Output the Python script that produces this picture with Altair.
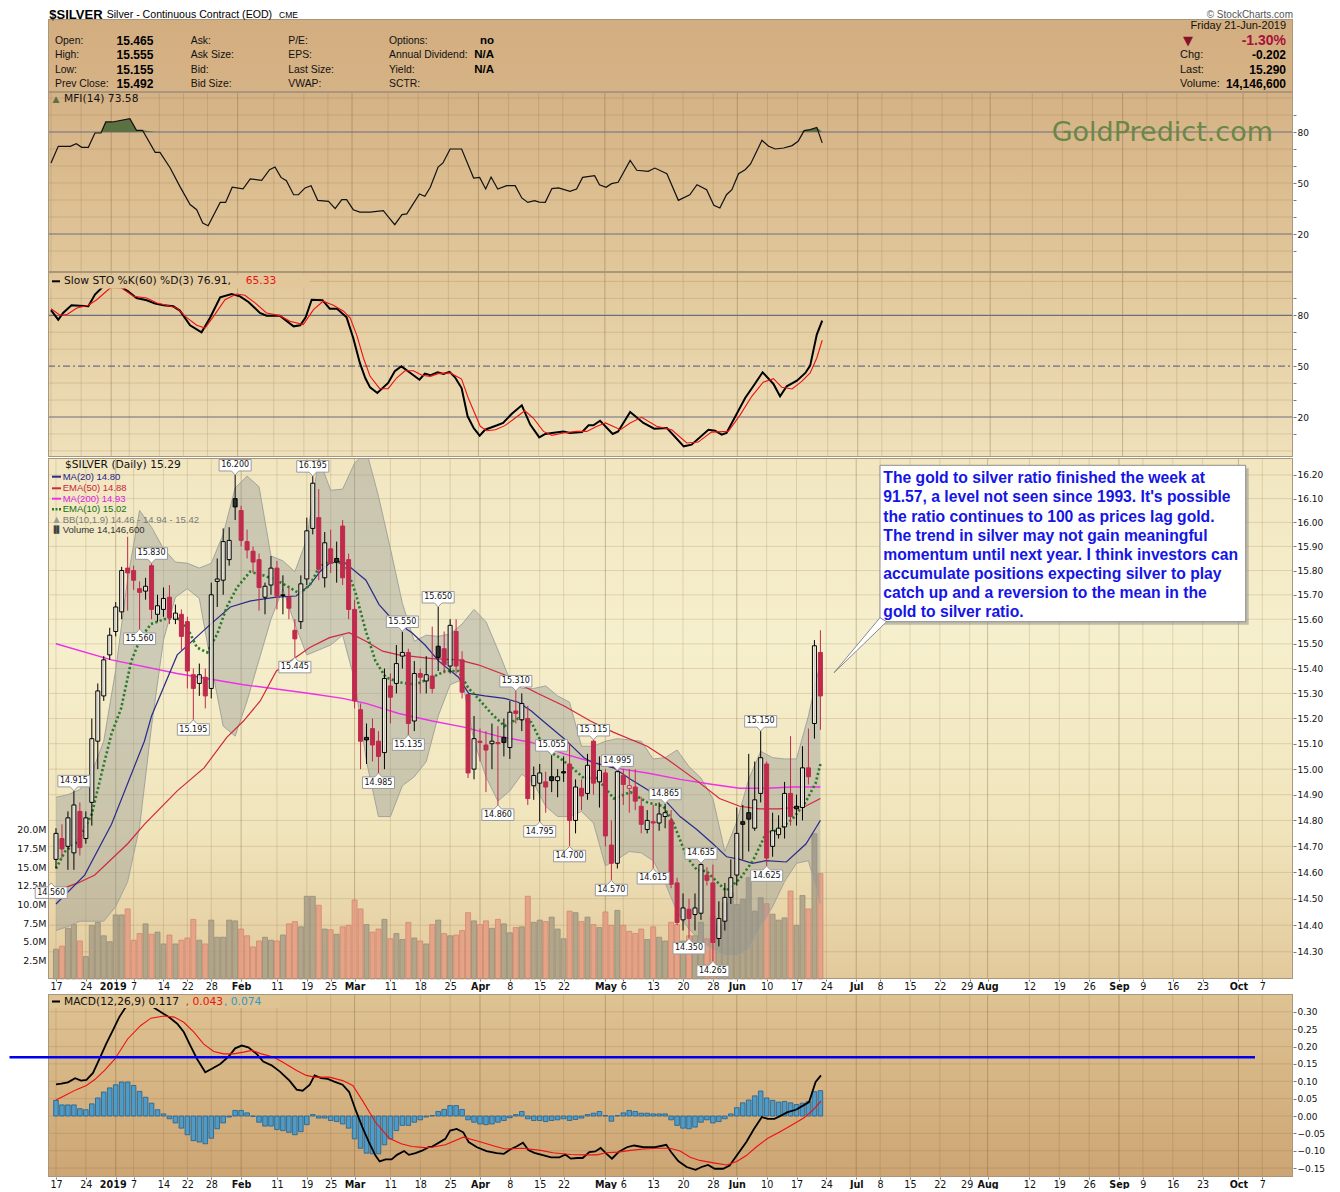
import altair as alt
import pandas as pd

W = 1245
XDOM = [-0.5, 206.3]
DJV = "DejaVu Sans"
LIB = "Liberation Sans"

# ---------------- candles (trading-day index 0 = 17-Dec-2018 ... 128 = 21-Jun-2019)
opens = [14.65, 14.73, 14.70, 14.675, 14.835, 14.73, 14.87, 15.11, 15.29, 15.455,
         15.55, 15.63, 15.81, 15.80, 15.725, 15.715, 15.82, 15.62, 15.64, 15.69,
         15.60, 15.62, 15.59, 15.375, 15.34, 15.365, 15.32, 15.755, 15.76, 15.845,
         16.10, 16.05, 15.92, 15.88, 15.845, 15.69, 15.74, 15.81, 15.70, 15.69,
         15.555, 15.59, 15.765, 15.975, 16.02, 15.77, 15.89, 15.85, 15.985, 15.845,
         15.64, 15.235, 15.125, 15.16, 15.11, 15.065, 15.33, 15.34, 15.45, 15.465,
         15.19, 15.38, 15.35, 15.37, 15.49, 15.48, 15.41, 15.55, 15.435, 15.295,
         15.00, 15.11, 15.095, 15.10, 15.105, 15.125, 15.085, 15.23, 15.195, 15.20,
         14.935, 14.945, 14.95, 14.97, 14.955, 14.99, 15.02, 14.80, 14.925, 14.905,
         15.11, 14.95, 14.985, 14.705, 14.635, 14.975, 14.925, 14.93, 14.855, 14.765,
         14.795, 14.79, 14.815, 14.80, 14.56, 14.42, 14.46, 14.44, 14.445, 14.59,
         14.56, 14.35, 14.415, 14.505, 14.59, 14.795, 14.83, 14.77, 14.905, 15.02,
         14.70, 14.745, 14.775, 14.905, 14.855, 14.85, 15.005, 15.18, 15.465]
highs = [14.77, 14.785, 14.835, 14.915, 14.87, 14.835, 15.20, 15.34, 15.45, 15.565,
         15.67, 15.815, 15.94, 15.82, 15.755, 15.77, 15.83, 15.70, 15.73, 15.74,
         15.66, 15.64, 15.61, 15.40, 15.42, 15.40, 15.75, 15.85, 15.975, 15.98,
         16.20, 16.07, 15.97, 15.90, 15.87, 15.75, 15.86, 15.84, 15.78, 15.73,
         15.60, 15.78, 16.02, 16.195, 16.14, 15.96, 15.97, 15.92, 16.01, 15.87,
         15.68, 15.26, 15.18, 15.20, 15.15, 15.40, 15.38, 15.495, 15.55, 15.48,
         15.43, 15.40, 15.45, 15.57, 15.65, 15.55, 15.60, 15.60, 15.47, 15.30,
         15.21, 15.16, 15.15, 15.18, 15.17, 15.20, 15.27, 15.31, 15.30, 15.25,
         15.01, 15.02, 14.99, 15.055, 15.00, 15.05, 15.10, 14.96, 14.96, 15.06,
         15.115, 15.05, 15.00, 14.80, 14.995, 15.00, 15.00, 15.00, 14.89, 14.84,
         14.86, 14.87, 14.865, 14.84, 14.58, 14.52, 14.50, 14.52, 14.635, 14.62,
         14.63, 14.49, 14.56, 14.65, 14.85, 14.86, 15.06, 15.03, 15.15, 15.03,
         14.83, 14.82, 14.95, 15.13, 14.90, 15.09, 15.16, 15.515, 15.555]
lows = [14.615, 14.655, 14.61, 14.61, 14.665, 14.71, 14.78, 15.00, 15.27, 15.435,
        15.53, 15.60, 15.635, 15.72, 15.56, 15.68, 15.60, 15.59, 15.61, 15.58,
        15.58, 15.475, 15.32, 15.195, 15.29, 15.24, 15.28, 15.65, 15.70, 15.82,
        16.01, 15.90, 15.85, 15.79, 15.635, 15.62, 15.70, 15.64, 15.62, 15.60,
        15.445, 15.56, 15.74, 15.95, 15.76, 15.73, 15.79, 15.75, 15.74, 15.60,
        15.24, 15.00, 15.02, 15.03, 14.985, 15.00, 15.18, 15.30, 15.40, 15.135,
        15.15, 15.30, 15.30, 15.30, 15.39, 15.38, 15.38, 15.38, 15.28, 14.965,
        14.96, 15.03, 14.91, 15.00, 14.86, 15.05, 15.04, 15.18, 15.15, 14.86,
        14.88, 14.795, 14.83, 14.91, 14.89, 14.95, 14.70, 14.75, 14.84, 14.88,
        14.90, 14.85, 14.70, 14.57, 14.615, 14.86, 14.83, 14.84, 14.75, 14.75,
        14.615, 14.76, 14.77, 14.54, 14.40, 14.38, 14.35, 14.38, 14.42, 14.55,
        14.265, 14.32, 14.38, 14.48, 14.55, 14.65, 14.68, 14.76, 14.87, 14.625,
        14.66, 14.73, 14.73, 14.78, 14.78, 14.80, 14.94, 15.12, 15.155]
closes = [14.75, 14.69, 14.81, 14.86, 14.695, 14.81, 15.12, 15.31, 15.435, 15.535,
          15.65, 15.80, 15.79, 15.76, 15.71, 15.735, 15.64, 15.655, 15.685, 15.605,
          15.625, 15.53, 15.39, 15.32, 15.375, 15.29, 15.70, 15.765, 15.92, 15.925,
          16.065, 15.925, 15.885, 15.835, 15.73, 15.735, 15.81, 15.695, 15.697, 15.645,
          15.52, 15.745, 15.965, 16.165, 15.805, 15.915, 15.83, 15.835, 15.77, 15.64,
          15.27, 15.11, 15.115, 15.095, 15.05, 15.36, 15.285, 15.42, 15.465, 15.18,
          15.38, 15.365, 15.375, 15.32, 15.445, 15.415, 15.575, 15.41, 15.305, 14.985,
          15.12, 15.105, 15.075, 15.11, 15.10, 15.105, 15.225, 15.22, 15.26, 14.885,
          14.975, 14.985, 14.93, 14.955, 14.97, 14.985, 14.80, 14.93, 14.895, 15.015,
          14.945, 14.995, 14.74, 14.635, 14.99, 14.94, 14.935, 14.875, 14.785, 14.80,
          14.79, 14.825, 14.83, 14.555, 14.41, 14.465, 14.425, 14.465, 14.63, 14.57,
          14.335, 14.425, 14.505, 14.58, 14.75, 14.785, 14.805, 14.88, 15.045, 14.655,
          14.76, 14.77, 14.905, 14.815, 14.845, 15.005, 14.97, 15.492, 15.29]
volume_m = [4.0, 4.4, 6.8, 7.3, 5.1, 3.0, 7.2, 7.6, 5.8, 5.0,
            8.6, 8.6, 9.4, 5.2, 6.1, 7.4, 6.0, 6.3, 4.7, 5.9,
            4.7, 5.2, 5.5, 8.0, 5.2, 4.7, 7.9, 5.6, 5.6, 7.9,
            7.8, 6.7, 5.8, 4.3, 5.1, 5.6, 5.2, 5.1, 5.9, 7.4,
            7.7, 7.0, 11.1, 11.1, 9.9, 6.7, 6.6, 6.0, 7.0, 7.2,
            10.6, 9.4, 7.3, 6.3, 6.7, 8.0, 5.4, 6.1, 5.3, 7.6,
            5.5, 5.1, 4.7, 7.3, 7.9, 6.1, 5.8, 5.9, 6.5, 8.9,
            7.8, 7.3, 7.8, 6.8, 8.0, 7.4, 6.2, 6.9, 7.0, 11.1,
            7.6, 7.9, 7.7, 8.3, 6.7, 5.4, 9.1, 8.9, 7.7, 8.3,
            7.3, 6.9, 9.0, 7.2, 9.2, 7.2, 6.4, 6.1, 6.7, 5.3,
            7.0, 5.6, 5.1, 7.6, 7.3, 5.1, 5.8, 5.8, 7.6, 5.4,
            8.4, 7.3, 10.2, 11.6, 10.0, 10.7, 13.6, 9.1, 10.9, 10.1,
            8.7, 7.9, 8.2, 11.8, 7.2, 11.2, 9.4, 19.5, 14.1466]

# ---------------- swing-point labels
swing_idx = [-0.8, 3, 14, 16, 23, 30, 40, 43, 54, 58, 59, 64, 74, 77, 81, 83, 86, 90,
             93, 94, 100, 102, 106, 108, 110, 118, 119]
swing_px = [14.56, 14.915, 15.56, 15.83, 15.195, 16.20, 15.445, 16.195, 14.985, 15.55,
            15.135, 15.65, 14.86, 15.31, 14.795, 15.055, 14.70, 15.115, 14.57, 14.995,
            14.615, 14.865, 14.35, 14.635, 14.265, 15.15, 14.625]
swing_kind = ["L", "H", "L", "H", "L", "H", "L", "H", "L", "H", "L", "H", "L", "H",
              "L", "H", "L", "H", "L", "H", "L", "H", "L", "H", "L", "H", "L"]

# ---------------- overlays (index, price)
ma20_pts = [(0, 14.48), (4.8, 14.59), (9.3, 14.785), (14.8, 15.11), (16, 15.21), (20.3, 15.455),
            (25.9, 15.58), (29.2, 15.65), (32.6, 15.675), (36.9, 15.69), (40.2, 15.695),
            (42.5, 15.74), (44.2, 15.795), (45.8, 15.83), (48, 15.84), (51.9, 15.76),
            (54.1, 15.66), (56.3, 15.60), (59.6, 15.545), (61.8, 15.495), (64.1, 15.43),
            (67.4, 15.365), (69.1, 15.30), (71.8, 15.29), (75.1, 15.28), (77.4, 15.265),
            (79.6, 15.23), (81.8, 15.185), (85.1, 15.12), (88.4, 15.045), (90, 15.025),
            (93.4, 15.005), (96.2, 14.96), (99, 14.92), (102.3, 14.87), (104.5, 14.815),
            (107.3, 14.765), (110, 14.71), (112.3, 14.66), (114.5, 14.65), (116.6, 14.635),
            (118.9, 14.645), (122.3, 14.64), (125.6, 14.71), (127.2, 14.77), (128, 14.80)]
ema50_pts = [(0, 14.53), (3.7, 14.56), (6.5, 14.59), (12, 14.71), (14.8, 14.785), (20.3, 14.915),
             (24.8, 15.005), (28.6, 15.125), (31.4, 15.19), (34.2, 15.27), (36.9, 15.39),
             (42.5, 15.485), (45.8, 15.525), (49.1, 15.545), (51.9, 15.51), (54.7, 15.47),
             (57.4, 15.455), (63, 15.44), (67.4, 15.435), (70.7, 15.415), (75.1, 15.375),
             (77.4, 15.34), (80.7, 15.30), (85.1, 15.25), (89.5, 15.19), (93.4, 15.145),
             (99, 15.09), (102.3, 15.04), (107.3, 14.955), (111.1, 14.885), (114.5, 14.855),
             (117.8, 14.845), (121.1, 14.845), (125.5, 14.855), (128, 14.885)]
ma200_pts = [(0, 15.50), (9.3, 15.435), (20.3, 15.38), (31.4, 15.335), (42.5, 15.30),
             (48, 15.28), (51.9, 15.26), (57.4, 15.22), (63, 15.19), (68.5, 15.165),
             (74, 15.13), (79.6, 15.105), (85.1, 15.06), (89.5, 15.03), (93.4, 15.005),
             (99, 14.985), (104.5, 14.96), (110, 14.94), (114.5, 14.925), (118.9, 14.925),
             (123.3, 14.93), (128, 14.93)]
ema10_pts = [(0, 14.615), (1.5, 14.68), (3.7, 14.72), (6, 14.825), (7.6, 14.98), (9.3, 15.14),
             (10.9, 15.24), (12.6, 15.43), (14.2, 15.525), (15.9, 15.58), (18.1, 15.60),
             (20.3, 15.605), (22, 15.565), (23.6, 15.485), (25.3, 15.465), (27, 15.54),
             (28.6, 15.65), (30.3, 15.73), (32.5, 15.795), (34.7, 15.78), (36.9, 15.76),
             (39.1, 15.73), (40.8, 15.705), (42.5, 15.74), (44.1, 15.815), (45.8, 15.84),
             (48, 15.83), (48.6, 15.815), (50.2, 15.705), (51.9, 15.55), (53.5, 15.43),
             (55.2, 15.365), (57.4, 15.345), (60.2, 15.335), (63, 15.365), (65.2, 15.39),
             (67.4, 15.39), (69.1, 15.32), (70.7, 15.28), (72.9, 15.22), (75.1, 15.17),
             (77.4, 15.20), (79.6, 15.185), (81.8, 15.08), (84, 15.05), (86.2, 15.01),
             (88.4, 14.965), (90.6, 14.965), (93.4, 14.885), (96.2, 14.91), (99, 14.87),
             (101.7, 14.855), (103.4, 14.79), (105.6, 14.66), (107.3, 14.61), (108.9, 14.605),
             (111.1, 14.555), (112.2, 14.53), (114.5, 14.575), (116.7, 14.645), (118.9, 14.75),
             (121.1, 14.765), (123.3, 14.805), (125.5, 14.87), (127.2, 14.945), (128, 15.02)]
bb_idx = list(range(0, 129, 2))
bb_upper = [14.89, 14.90, 14.92, 14.985, 15.11, 15.395, 15.765, 16.05, 15.98, 15.89,
            15.835, 15.83, 15.81, 15.83, 15.95, 16.145, 16.195, 16.15, 15.86, 15.84,
            15.795, 15.93, 16.27, 16.135, 16.14, 16.25, 16.30, 16.11, 15.89, 15.665,
            15.51, 15.535, 15.53, 15.54, 15.58, 15.64, 15.59, 15.475, 15.355, 15.32,
            15.32, 15.33, 15.29, 15.265, 15.09, 15.09, 15.11, 15.12, 15.115, 15.11,
            15.04, 15.045, 15.075, 15.01, 14.965, 14.885, 14.68, 14.795, 14.96, 15.07,
            15.045, 15.04, 15.04, 15.21, 15.425]
bb_lower = [14.38, 14.395, 14.415, 14.415, 14.415, 14.47, 14.565, 14.775, 15.17, 15.515,
            15.69, 15.725, 15.685, 15.415, 15.17, 15.13, 15.27, 15.435, 15.60, 15.725,
            15.58, 15.455, 15.475, 15.495, 15.535, 15.355, 15.03, 14.815, 14.815, 14.935,
            14.97, 15.03, 15.21, 15.335, 15.355, 15.11, 14.97, 14.875, 14.915, 14.98,
            14.945, 14.855, 14.815, 14.815, 14.835, 14.79, 14.625, 14.65, 14.68, 14.675,
            14.645, 14.56, 14.45, 14.385, 14.34, 14.31, 14.285, 14.285, 14.31, 14.395,
            14.47, 14.565, 14.635, 14.645, 14.48]

# ---------------- MFI(14)
mfi_pts = [(0, 61.8), (1.2, 71.6), (3.2, 71.6), (4.2, 73.1), (5.1, 71.0), (6.2, 71.0), (7.3, 79.4),
           (8.3, 79.4), (9.1, 85.9), (10.2, 85.9), (13.1, 87.8), (14.2, 81.0), (15.2, 81.0),
           (17.3, 68.0), (18.1, 68.0), (19.8, 58.8), (21.4, 48.0), (23.1, 37.3), (24.2, 34.3),
           (25.2, 26.5), (26.1, 24.9), (28.1, 38.6), (29, 38.6), (30.1, 47.5), (31.9, 46.5),
           (33.1, 52.4), (35, 51.6), (36.3, 57.8), (37.2, 59.4), (38.2, 53.3), (39.1, 51.4),
           (40.3, 43.1), (41.1, 43.1), (42.2, 47.1), (43.2, 48.4), (44.3, 39.8), (46.1, 39.2),
           (47.2, 34.9), (48.3, 40.2), (49.1, 40.2), (50.2, 34.3), (51.3, 32.9), (53, 32.9),
           (55.2, 33.7), (56.2, 29.4), (57.1, 25.5), (58.3, 31.4), (59.1, 31.8), (61.2, 43.5),
           (62.1, 42.2), (63, 47.5), (64.3, 59.4), (65.1, 61.8), (66.3, 70.0), (68.2, 70.0),
           (70.2, 52.9), (71.2, 53.3), (72.2, 46.5), (73.1, 53.5), (74.2, 46.5), (75.7, 48.4),
           (77.1, 48.4), (78.2, 41.2), (79.2, 38.6), (80.3, 39.6), (81.1, 38.8), (82.1, 38.6),
           (83.2, 46.7), (84.3, 47.1), (86.2, 45.1), (87.3, 46.5), (88.3, 53.3), (90.3, 54.3),
           (91.1, 49.0), (92.2, 47.5), (93.1, 49.6), (94.2, 50.4), (96.2, 63.3), (97.3, 57.5),
           (99.2, 56.9), (100.3, 58.8), (102.3, 55.5), (104.2, 39.8), (106.1, 43.1),
           (107.3, 49.0), (108.9, 46.1), (110.1, 36.9), (111.1, 35.3), (112.2, 43.1),
           (113.1, 46.1), (114.2, 55.5), (115.3, 57.8), (116.2, 61.2), (118.1, 75.1),
           (119.2, 71.6), (120.3, 70.0), (121.7, 70.6), (123.1, 72.0), (124.1, 74.5),
           (125.1, 80.8), (126.1, 81.4), (127.2, 82.7), (128.1, 73.6)]

# ---------------- Slow STO %K(60) %D(3)
stok_pts = [(0, 83.0), (1.2, 77.4), (2, 81.4), (3.4, 85.9), (6.2, 85.3), (7.3, 92.2), (8.4, 96.1),
            (9.5, 99.5), (10.5, 99.0), (11.5, 97.1), (12.8, 94.2), (14.2, 90.2), (15.9, 88.9),
            (17.3, 86.9), (18.7, 85.9), (20.3, 85.3), (21.4, 82.8), (23.1, 74.1), (25, 70.0),
            (26.4, 78.4), (28.1, 90.6), (30, 92.6), (31.4, 91.2), (32.8, 87.9), (34.7, 81.4),
            (35.8, 79.8), (38, 79.8), (40.3, 73.5), (41.4, 74.1), (42.3, 78.8), (43.3, 89.2),
            (45.1, 88.9), (46.3, 83.9), (47.5, 83.9), (49.1, 78.8), (50.2, 66.6), (51.3, 51.9),
            (52.2, 43.0), (53, 37.5), (54.2, 34.2), (56, 40.1), (57.1, 47.0), (58.2, 49.9),
            (59.7, 46.0), (61.2, 42.0), (62.1, 45.6), (63, 44.6), (64.2, 46.4), (65.2, 45.4),
            (66.2, 46.6), (67.1, 43.4), (68.2, 37.1), (69.2, 20.4), (70.2, 13.5), (71.2, 9.0),
            (72.1, 12.5), (74.1, 15.1), (75.1, 16.5), (76.5, 21.8), (78.2, 26.9), (79.6, 15.5),
            (81.1, 8.0), (82.1, 10.0), (83.2, 10.6), (85.1, 11.5), (86.2, 10.6), (88.2, 11.1),
            (89.3, 15.1), (90.1, 15.1), (91.2, 17.8), (93.3, 10.0), (94.2, 11.5), (96.2, 22.9),
            (98.4, 16.5), (100.2, 13.1), (102.3, 13.5), (105.1, 2.7), (106.4, 3.7),
            (109.2, 12.5), (110.3, 11.9), (111.4, 9.6), (112.2, 10.6), (115.3, 31.2),
            (116.9, 39.5), (118.2, 46.4), (120, 39.5), (121.1, 32.2), (122.2, 38.1),
            (123.9, 41.4), (125.3, 46.0), (126.1, 50.3), (127.2, 68.6), (128.1, 76.9)]
stod_pts = [(0, 83.9), (1.5, 80.0), (2.6, 80.4), (4.3, 84.3), (6.2, 85.9), (7.6, 89.2), (9.2, 94.2),
            (10, 96.5), (11.7, 96.1), (13.7, 91.2), (15.9, 90.2), (17.6, 87.3), (19.2, 85.9),
            (20.9, 84.3), (22.5, 78.8), (24.2, 74.1), (25.6, 72.5), (27.2, 80.4), (28.9, 89.2),
            (30.8, 92.6), (32.2, 91.8), (33.9, 87.3), (35.8, 81.4), (38, 79.8), (39.7, 76.5),
            (41.9, 74.5), (43.6, 83.3), (45.2, 88.3), (46.9, 85.9), (48.6, 82.4), (49.7, 78.4),
            (50.8, 68.2), (51.9, 54.8), (53, 44.0), (54.6, 36.7), (56, 36.7), (57.4, 43.0),
            (58.8, 47.3), (60.2, 47.3), (61.6, 44.6), (63, 44.0), (64.3, 45.6), (66.3, 46.0),
            (68.2, 42.4), (69.3, 31.2), (71.3, 14.5), (72.4, 11.9), (73.8, 12.5), (75.4, 14.9),
            (77.1, 19.4), (78.7, 23.7), (80.1, 19.4), (81.8, 11.5), (83.2, 9.2), (85.1, 10.6),
            (87.3, 11.5), (89, 11.5), (90.7, 14.5), (92.1, 16.5), (94.6, 12.5), (96.2, 16.5),
            (98.1, 19.8), (100.6, 14.5), (103.1, 12.5), (105.6, 4.7), (107.5, 5.2),
            (109.7, 11.1), (112.5, 11.5), (114.5, 21.4), (116.4, 32.2), (118.3, 40.5),
            (120, 42.6), (121.4, 37.5), (123.1, 36.5), (124.7, 41.0), (126.1, 46.0),
            (127.2, 54.8), (128.1, 65.3)]

# ---------------- MACD(12,26,9)
macd_pts = [(0, 0.091), (0.9, 0.093), (2, 0.097), (3.2, 0.109), (4.2, 0.102), (5.1, 0.104),
            (6.2, 0.124), (7.3, 0.165), (8.4, 0.208), (9.5, 0.246), (10.6, 0.285), (11.5, 0.309),
            (12.3, 0.325), (13.3, 0.337), (14.2, 0.338), (15.9, 0.318), (17.8, 0.297),
            (18.9, 0.285), (20.3, 0.266), (21.4, 0.242), (22.5, 0.203), (23.6, 0.165),
            (25, 0.126), (26.1, 0.136), (27.5, 0.150), (28.9, 0.171), (30, 0.195), (31.1, 0.203),
            (32.2, 0.198), (33.6, 0.179), (34.7, 0.157), (36.1, 0.146), (37.5, 0.128),
            (39.1, 0.102), (40.3, 0.076), (41.3, 0.073), (42.5, 0.090), (43.3, 0.117),
            (44.4, 0.109), (45.5, 0.107), (46.6, 0.099), (48, 0.090), (49.1, 0.069),
            (50.2, 0.016), (51.3, -0.032), (52.4, -0.075), (53.5, -0.114), (54.2, -0.131),
            (55.2, -0.125), (56.2, -0.125), (57.1, -0.112), (58.3, -0.101), (59.1, -0.112),
            (60.2, -0.107), (61.3, -0.100), (62.4, -0.090), (63, -0.088), (65.2, -0.066),
            (66, -0.042), (67.1, -0.037), (68.2, -0.047), (69.1, -0.075), (70.5, -0.090),
            (72.1, -0.101), (73.8, -0.107), (75, -0.109), (76.2, -0.095), (77.1, -0.088),
            (78.2, -0.077), (79.1, -0.098), (80.1, -0.106), (81.2, -0.111), (82.9, -0.119),
            (84.3, -0.119), (85.3, -0.111), (86.2, -0.123), (87.3, -0.121), (88.2, -0.121),
            (89.3, -0.104), (90.3, -0.102), (91.2, -0.092), (92.2, -0.109), (93.1, -0.123),
            (94.2, -0.104), (95.6, -0.090), (96.8, -0.085), (98.4, -0.090), (100.3, -0.090),
            (102.2, -0.083), (103, -0.104), (104.2, -0.130), (105.6, -0.147), (107.1, -0.155),
            (108.1, -0.147), (109.2, -0.141), (110.3, -0.152), (111.7, -0.152),
            (112.8, -0.143), (114.2, -0.109), (115.6, -0.075), (116.9, -0.037),
            (118.2, -0.003), (119.2, -0.008), (120.3, -0.008), (121.4, 0.001), (122.5, 0.011),
            (123.9, 0.018), (124.8, 0.027), (126.1, 0.040), (127.2, 0.098), (128.1, 0.117)]
signal_pts = [(0, 0.046), (1.5, 0.059), (3.4, 0.076), (5.1, 0.088), (6.5, 0.105), (8.1, 0.131),
              (9.8, 0.163), (12, 0.222), (14.2, 0.261), (15.9, 0.282), (18.1, 0.288),
              (19.8, 0.285), (21.4, 0.270), (23.1, 0.242), (24.7, 0.208), (26.4, 0.186),
              (28.1, 0.179), (29.7, 0.179), (31.4, 0.184), (32.8, 0.189), (34.4, 0.179),
              (36.4, 0.170), (38, 0.155), (40.3, 0.131), (41.9, 0.117), (43.3, 0.112),
              (45.8, 0.112), (48, 0.102), (49.7, 0.088), (51.3, 0.045), (53.5, -0.018),
              (55.8, -0.064), (57.8, -0.080), (59.6, -0.088), (61.8, -0.091), (63, -0.090),
              (65.2, -0.083), (68.2, -0.061), (70.7, -0.073), (73.5, -0.087), (75.2, -0.095),
              (78.1, -0.093), (81.2, -0.099), (83.2, -0.106), (86.2, -0.111), (88.4, -0.112),
              (90.6, -0.112), (92.1, -0.106), (94.1, -0.104), (96.2, -0.099), (98.4, -0.095),
              (100.6, -0.093), (102.8, -0.093), (104.5, -0.101), (106.2, -0.119),
              (107.8, -0.128), (110.1, -0.135), (112.3, -0.141), (114, -0.131),
              (115.6, -0.114), (117.2, -0.090), (119.2, -0.064), (121.1, -0.047),
              (123.3, -0.025), (125.2, -0.006), (126.7, 0.016), (128.1, 0.043)]
hist_vals = [0.045, 0.032, 0.032, 0.032, 0.021, 0.018, 0.035, 0.052, 0.069, 0.081,
             0.090, 0.098, 0.098, 0.088, 0.071, 0.054, 0.037, 0.018, 0.006, -0.008,
             -0.020, -0.035, -0.054, -0.071, -0.075, -0.080, -0.064, -0.037, -0.020, -0.003,
             0.016, 0.016, 0.009, -0.001, -0.018, -0.029, -0.029, -0.039, -0.042, -0.047,
             -0.054, -0.045, -0.025, 0.004, -0.006, -0.006, -0.013, -0.016, -0.023, -0.035,
             -0.066, -0.093, -0.107, -0.109, -0.109, -0.083, -0.066, -0.042, -0.027, -0.027,
             -0.018, -0.011, -0.003, 0.001, 0.013, 0.019, 0.030, 0.030, 0.019, -0.011,
             -0.018, -0.023, -0.025, -0.023, -0.018, -0.013, -0.005, 0.004, 0.013, -0.008,
             -0.013, -0.013, -0.016, -0.013, -0.011, -0.008, -0.013, -0.010, -0.006, 0.004,
             0.008, 0.013, 0.001, -0.015, 0.001, 0.009, 0.016, 0.013, 0.008, 0.008,
             0.006, 0.006, 0.006, -0.011, -0.027, -0.035, -0.037, -0.032, -0.018, -0.011,
             -0.020, -0.016, -0.008, 0.006, 0.024, 0.038, 0.046, 0.058, 0.072, 0.052,
             0.045, 0.040, 0.042, 0.038, 0.033, 0.037, 0.042, 0.070, 0.073]
annot_level = [0.169]

# ---------------- axis ticks / labels
tick_idx = [0, 5, 10, 13, 18, 22, 26, 31, 37, 42, 46, 50, 56, 61, 66, 71, 76, 81, 85, 92, 95,
            100, 105, 110, 114, 119, 124, 129, 134, 138, 143, 148, 153, 156, 163, 168, 173,
            178, 182, 187, 192, 198, 202]
tick_lab = ["17", "24", "2019", "7", "14", "22", "28", "Feb", "11", "19", "25", "Mar", "11",
            "18", "25", "Apr", "8", "15", "22", "May", "6", "13", "20", "28", "Jun", "10", "17",
            "24", "Jul", "8", "15", "22", "29", "Aug", "12", "19", "26", "Sep", "9", "16", "23",
            "Oct", "7"]
month_idx = [10, 31, 50, 71, 92, 114, 134, 156, 178, 198]
price_ticks = [14.3, 14.4, 14.5, 14.6, 14.7, 14.8, 14.9, 15.0, 15.1, 15.2, 15.3, 15.4, 15.5,
               15.6, 15.7, 15.8, 15.9, 16.0, 16.1, 16.2]
vol_ticks = [2.5, 5, 7.5, 10, 12.5, 15, 17.5, 20]
osc_ticks = [10, 20, 30, 40, 50, 60, 70, 80, 90]
macd_ticks = [-0.15, -0.10, -0.05, 0.0, 0.05, 0.10, 0.15, 0.20, 0.25, 0.30]

ANN_LINES = ["The gold to silver ratio finished the week at",
             "91.57, a level not seen since 1993. It's possible",
             "the ratio continues to 100 as prices lag gold.",
             "The trend in silver may not gain meaningful",
             "momentum until next year. I think investors can",
             "accumulate positions expecting silver to play",
             "catch up and a reversion to the mean in the",
             "gold to silver ratio."]

# ---------------- styles
RED = "#c02a4c"
HOLLOW = "#fbf8ee"
DARK = "#2e2e2e"
GRIDC = "#6e5228"
REFC = "#6d6d80"
BORDER = "#a8977c"

H_HDR, H_MFI, H_STO, H_PRC, H_MACD = 73, 180, 185, 521, 183

xsc = alt.Scale(domain=XDOM, nice=False, zero=False)
ysc_p = alt.Scale(type="log", domain=[14.1986, 16.272], nice=False, zero=False)
ysc_v = alt.Scale(domain=[0, 69.93], nice=False, zero=False)
ysc_m = alt.Scale(domain=[-2.35, 103.53], nice=False, zero=False)
ysc_s = alt.Scale(domain=[-3.6, 105.55], nice=False, zero=False)
ysc_d = alt.Scale(domain=[-0.1758, 0.3516], nice=False, zero=False)

lab_expr = "".join("datum.value == %d ? '%s' : " % (t, s) for t, s in zip(tick_idx, tick_lab)) + "''"
bold_test = " || ".join("datum.value == %d" % t for t in month_idx)
osc_expr = "datum.value == 20 || datum.value == 50 || datum.value == 80 ? datum.label : ''"


def raxis(values, fmt=None, expr=None):
    kw = dict(orient="right", values=values, tickSize=3, tickColor="#777777", domain=False,
              grid=False, labelFont=DJV, labelFontSize=9, labelColor="#111111",
              labelPadding=1, labelFlush=False, labelOverlap=False, title=None)
    if fmt is not None:
        kw["format"] = fmt
    if expr is not None:
        kw["labelExpr"] = expr
    return alt.Axis(**kw)


# one shared axis object per scale: every layer using that scale gets the same axis
XAX = alt.Axis(values=tick_idx, labelExpr=lab_expr,
               labelFontWeight={"condition": {"test": bold_test, "value": "bold"},
                                "value": "normal"},
               labelOffset={"condition": {"test": "datum.value == 10 || datum.value == 153",
                                          "value": -3},
                            "value": 0},
               grid=False, domain=False, ticks=True, tickSize=2, tickColor="#777777",
               labelFont=DJV, labelFontSize=9.6, labelColor="#111111", labelPadding=0,
               labelOverlap=False, labelFlush=False, title=None)
PAX = raxis(price_ticks, fmt=".2f")
MAX = raxis(macd_ticks, fmt=".2f")
OAX = raxis(osc_ticks, expr=osc_expr)
VAX = alt.Axis(orient="left", values=vol_ticks, labelExpr="format(datum.value, '.1f') + 'M'",
               ticks=False, domain=False, grid=False, labelFont=DJV, labelFontSize=9.5,
               labelColor="#111111", labelPadding=2, title=None)


def one():
    return alt.Data(values=[{"k": 0}])


def T(txt, x, y, size=10.0, color="#000000", weight="normal", align="left", font=DJV,
      baseline="middle"):
    return alt.Chart(one()).mark_text(text=txt, fontSize=size, color=color, fontWeight=weight,
                                      align=align, font=font, baseline=baseline).encode(
        x=alt.value(x), y=alt.value(y))


def R(x, x2, y, y2, color, width=1.0, dash=None, opacity=1.0):
    kw = dict(color=color, strokeWidth=width, opacity=opacity)
    if dash is not None:
        kw["strokeDash"] = dash
    return alt.Chart(one()).mark_rule(**kw).encode(x=alt.value(x), x2=alt.value(x2),
                                                   y=alt.value(y), y2=alt.value(y2))


def BOX(x, x2, y, y2, fill, stroke=None, opacity=1.0):
    kw = dict(fill=fill, opacity=opacity)
    if stroke is not None:
        kw.update(stroke=stroke, strokeWidth=1)
    else:
        kw.update(strokeWidth=0)
    return alt.Chart(one()).mark_rect(**kw).encode(x=alt.value(x), x2=alt.value(x2),
                                                   y=alt.value(y), y2=alt.value(y2))


def GRAD(h, stops):
    g = alt.LinearGradient(gradient="linear",
                           stops=[alt.GradientStop(offset=o, color=c) for o, c in stops],
                           x1=0, x2=0, y1=0, y2=1)
    return alt.Chart(one()).mark_rect(fill=g, strokeWidth=0).encode(
        x=alt.value(0), x2=alt.value(W), y=alt.value(0), y2=alt.value(h))


def FRAME(h):
    return [R(0, W, 0.5, 0.5, BORDER), R(0, W, h - 0.5, h - 0.5, BORDER),
            R(0.5, 0.5, 0.5, h - 0.5, BORDER), R(W - 0.5, W - 0.5, 0.5, h - 0.5, BORDER)]


def GUARD(y):
    return R(-39.5, -39.5, y, y, "#ffffff", opacity=0.0)


def VGRID(h, axis=None):
    week = [t for t in tick_idx if t not in month_idx]
    enc = dict(x=alt.X("t:Q", scale=xsc, axis=axis), y=alt.value(0.5), y2=alt.value(h - 0.5))
    a = alt.Chart(pd.DataFrame({"t": week})).mark_rule(color=GRIDC, opacity=0.17,
                                                       strokeWidth=1).encode(**enc)
    b = alt.Chart(pd.DataFrame({"t": month_idx})).mark_rule(color=GRIDC, opacity=0.33,
                                                            strokeWidth=1).encode(**enc)
    return [a, b]


def HLINES(vals, scale, axis=None, color=GRIDC, opacity=0.17, width=1.0, dash=None):
    kw = dict(color=color, opacity=opacity, strokeWidth=width)
    if dash is not None:
        kw["strokeDash"] = dash
    return alt.Chart(pd.DataFrame({"v": vals})).mark_rule(**kw).encode(
        y=alt.Y("v:Q", scale=scale, axis=axis), x=alt.value(0), x2=alt.value(W))


def XP(field="i:Q", axis=None):
    return alt.X(field, scale=xsc, axis=axis)


def pts_df(pairs, col):
    return pd.DataFrame(pairs, columns=["i", col])


# ---------------- candle table
rows = []
for k in range(len(closes)):
    up = k == 0 or closes[k] >= closes[k - 1]
    filled = closes[k] < opens[k]
    col = "#000000" if up else RED
    if filled:
        bf, fo = (DARK if up else RED), 1.0
    else:
        bf, fo = HOLLOW, 0.8
    rows.append(dict(i=k, o=opens[k], h=highs[k], l=lows[k], c=closes[k], wc=col, bf=bf,
                     bs=col, fo=fo, vol=volume_m[k], z0=0.0,
                     vf="#a99f87" if up else "#e59c84", vs="#8b8270" if up else "#cd7c66"))
cdf = pd.DataFrame(rows)

# ================= HEADER
HDR = [
    GRAD(H_HDR, [(0, "#d2ad7f"), (1, "#d6b386")]),
    *FRAME(H_HDR),
    GUARD(-10.5),
    T("$SILVER", 1.3, -4.5, size=13, weight="bold", font=LIB),
    T("Silver - Continuous Contract (EOD)", 58.7, -4.5, size=10.6, font=LIB),
    T("CME", 231, -4.5, size=8.5, font=LIB),
    T("\u00a9 StockCharts.com", W, -4.5, size=10, color="#555555", align="right", font=LIB),
]
rows_y = [21.7, 36, 51, 65.3]
col_texts = [
    (7, ["Open:", "High:", "Low:", "Prev Close:"]),
    (142.7, ["Ask:", "Ask Size:", "Bid:", "Bid Size:"]),
    (240.3, ["P/E:", "EPS:", "Last Size:", "VWAP:"]),
    (341, ["Options:", "Annual Dividend:", "Yield:", "SCTR:"]),
]
for cx, labels in col_texts:
    for yy, s in zip(rows_y, labels):
        HDR.append(T(s, cx, yy, size=10.4, color="#111111", font=LIB))
for yy, s in zip(rows_y, ["15.465", "15.555", "15.155", "15.492"]):
    HDR.append(T(s, 105.3, yy, size=12, weight="bold", align="right", font=LIB))
for yy, s in zip(rows_y[:3], ["no", "N/A", "N/A"]):
    HDR.append(T(s, 446, yy, size=11.5, weight="bold", align="right", font=LIB))
HDR += [
    T("Friday  21-Jun-2019", 1238, 7, size=11, color="#111111", align="right", font=LIB),
    T("\u25bc", 1140, 21.7, size=13, color="#8a0f2a", align="center"),
    T("-1.30%", 1238, 21.7, size=14, weight="bold", color="#a8103c", align="right", font=LIB),
    T("Chg:", 1132, 36, size=11, color="#111111", font=LIB),
    T("-0.202", 1238, 36, size=12, weight="bold", align="right", font=LIB),
    T("Last:", 1132, 51, size=11, color="#111111", font=LIB),
    T("15.290", 1238, 51, size=12, weight="bold", align="right", font=LIB),
    T("Volume:", 1132, 65.3, size=11, color="#111111", font=LIB),
    T("14,146,600", 1238, 65.3, size=12, weight="bold", align="right", font=LIB),
]
header = alt.layer(*HDR).properties(width=W, height=H_HDR)

# ================= MFI panel
mdf = pts_df(mfi_pts, "v")
mdf["v80"] = mdf["v"].clip(lower=80)
mdf["b80"] = 80.0
mfi = alt.layer(
    GRAD(H_MFI, [(0, "#d5b285"), (1, "#e1c79a")]),
    *VGRID(H_MFI),
    HLINES([10, 30, 40, 50, 60, 70, 90, 100], ysc_m, OAX),
    HLINES([20, 80], ysc_m, OAX, color=REFC, opacity=1.0, width=1.2),
    alt.Chart(mdf).mark_area(color="#5b7142", opacity=1).encode(
        x=XP(), y=alt.Y("v80:Q", scale=ysc_m, axis=OAX), y2=alt.Y2("b80")),
    alt.Chart(mdf).mark_line(color="#111111", strokeWidth=1.2).encode(
        x=XP(), y=alt.Y("v:Q", scale=ysc_m, axis=OAX)),
    *FRAME(H_MFI),
    GUARD(5),
    T("\u25b2", 8, 6.7, size=9, color="#5b7142", align="center"),
    T("MFI(14) 73.58", 16, 6.7, size=10.7, color="#111111"),
    T("GoldPredict.com", 1225, 40.5, size=27, color="#6b8748", align="right"),
).properties(width=W, height=H_MFI)

# ================= STO panel
kdf = pts_df(stok_pts, "v")
ddf = pts_df(stod_pts, "v")
sto = alt.layer(
    GRAD(H_STO, [(0, "#e1c79a"), (1, "#efe1bb")]),
    *VGRID(H_STO),
    HLINES([0, 10, 30, 40, 60, 70, 90, 100], ysc_s, OAX),
    HLINES([20, 80], ysc_s, OAX, color=REFC, opacity=1.0, width=1.2),
    HLINES([50], ysc_s, OAX, color=REFC, opacity=1.0, width=1.1, dash=[7, 3, 2, 3]),
    alt.Chart(kdf).mark_line(color="#000000", strokeWidth=2).encode(
        x=XP(), y=alt.Y("v:Q", scale=ysc_s, axis=OAX)),
    alt.Chart(ddf).mark_line(color="#ee1111", strokeWidth=1.1).encode(
        x=XP(), y=alt.Y("v:Q", scale=ysc_s, axis=OAX)),
    *FRAME(H_STO),
    GUARD(5),
    BOX(2, 262, 2.5, 16.5, "#e1c79a"),
    R(4, 12, 9.3, 9.3, "#000000", width=2),
    T("Slow STO %K(60) %D(3) 76.91,", 16, 9.3, size=10.7, color="#111111"),
    T("65.33", 197.7, 9.3, size=10.7, color="#ee1111"),
).properties(width=W, height=H_STO)


# ================= PRICE panel
def YP(field):
    return alt.Y(field, scale=ysc_p, axis=PAX)


bbdf = pd.DataFrame({"i": bb_idx, "up": bb_upper, "lo": bb_lower})
bb_area = alt.Chart(bbdf).mark_area(color="#8c9090", opacity=0.38, clip=True).encode(
    x=XP(axis=XAX), y=YP("lo:Q"), y2=alt.Y2("up"))
bb_up_l = alt.Chart(bbdf).mark_line(color="#a2a49c", strokeWidth=1, clip=True).encode(
    x=XP(axis=XAX), y=YP("up:Q"))
bb_lo_l = alt.Chart(bbdf).mark_line(color="#a2a49c", strokeWidth=1, clip=True).encode(
    x=XP(axis=XAX), y=YP("lo:Q"))


def pline(pairs, color, width, dash=None):
    kw = dict(color=color, strokeWidth=width, clip=True)
    if dash is not None:
        kw.update(strokeDash=dash, strokeCap="butt")
    return alt.Chart(pts_df(pairs, "p")).mark_line(**kw).encode(x=XP(axis=XAX), y=YP("p:Q"))


wicks = alt.Chart(cdf).mark_rule(strokeWidth=1).encode(
    x=XP(axis=XAX), y=YP("l:Q"), y2=alt.Y2("h"), color=alt.Color("wc:N", scale=None))
bodies = alt.Chart(cdf).mark_bar(size=4, strokeWidth=1).encode(
    x=XP(axis=XAX), y=YP("o:Q"), y2=alt.Y2("c"),
    fill=alt.Fill("bf:N", scale=None), stroke=alt.Stroke("bs:N", scale=None),
    fillOpacity=alt.FillOpacity("fo:Q", scale=None))

sdf = pd.DataFrame({"i": swing_idx, "p": swing_px, "k": swing_kind})
sdf["t"] = sdf["p"].map(lambda v: "%.3f" % v)
s_hi = sdf[sdf.k == "H"]
s_lo = sdf[sdf.k == "L"]
SH_HI = "M0,0 L-0.2,-0.22 L-0.89,-0.22 L-0.89,-0.86 L0.89,-0.86 L0.89,-0.22 L0.2,-0.22 Z"
SH_LO = "M0,0 L0.2,0.22 L0.89,0.22 L0.89,0.86 L-0.89,0.86 L-0.89,0.22 L-0.2,0.22 Z"


def sbox(df, shape):
    return alt.Chart(df).mark_point(shape=shape, size=1296, filled=True, fill="#ffffff",
                                    stroke="#9a9a9a", strokeWidth=1, opacity=1).encode(
        x=XP(axis=XAX), y=YP("p:Q"))


def stext(df, dy):
    return alt.Chart(df).mark_text(dy=dy, fontSize=8, font=DJV, color="#111111").encode(
        x=XP(axis=XAX), y=YP("p:Q"), text="t:N")


PTR = "M0,0 L0.767,-0.917 L0.878,-0.85 Z"
price_main = alt.layer(
    bb_area, bb_up_l, bb_lo_l,
    pline(ma200_pts, "#ee30e6", 1.4),
    pline(ema50_pts, "#d0283e", 1.2),
    pline(ma20_pts, "#2a2a8c", 1.2),
    pline(ema10_pts, "#2a7a2a", 2.6, dash=[2.2, 2.4]),
    wicks, bodies,
    sbox(s_hi, SH_HI), sbox(s_lo, SH_LO),
    stext(s_hi, -9.8), stext(s_lo, 9.8),
    # legend
    T("$SILVER (Daily) 15.29", 17, 7, size=10.7, color="#111111"),
    R(4, 13, 18.7, 18.7, "#2a2a8c", width=2),
    T("MA(20) 14.80", 14.7, 18.7, size=9.5, color="#22228a", font=LIB),
    R(4, 13, 30.3, 30.3, "#d0283e", width=2),
    T("EMA(50) 14.88", 14.7, 30.3, size=9.5, color="#cc1f3a", font=LIB),
    R(4, 13, 40.7, 40.7, "#ee30e6", width=2),
    T("MA(200) 14.93", 14.7, 40.7, size=9.5, color="#e020e0", font=LIB),
    R(4, 13, 51.3, 51.3, "#2a7a2a", width=2.4, dash=[2, 1.5]),
    T("EMA(10) 15.02", 14.7, 51.3, size=9.5, color="#157015", font=LIB),
    T("\u25b2", 8.5, 62, size=8, color="#9a9a9a", align="center"),
    T("BB(10,1.9) 14.46 - 14.94 - 15.42", 14.7, 62, size=9.5, color="#7a7a7a", font=LIB),
    T("\u2590\u258c", 8.5, 72, size=7, color="#444444", align="center"),
    T("Volume 14,146,600", 14.7, 72, size=9.5, color="#333333", font=LIB),
    # annotation call-out
    BOX(835, 1200.7, 10.3, 166.7, "#8a8a8a", opacity=0.5),
    BOX(832, 1197.7, 7.3, 163.7, "#ffffff", stroke="#8c8c8c"),
    alt.Chart(one()).mark_point(shape=PTR, size=14400, filled=True, fill="#ffffff",
                                stroke="#8a8a8a", strokeWidth=1, opacity=1).encode(
        x=alt.value(786), y=alt.value(214.7)),
    alt.Chart(one()).mark_text(text=ANN_LINES, font=LIB, fontSize=15.7, fontWeight="bold",
                               color="#1515e6", align="left", baseline="alphabetic",
                               lineHeight=19.1).encode(x=alt.value(835.3), y=alt.value(25.4)),
)

vol_chart = alt.Chart(cdf).mark_bar(size=5, strokeWidth=0.8, opacity=0.85).encode(
    x=XP(axis=XAX),
    y=alt.Y("vol:Q", scale=ysc_v, axis=VAX),
    y2=alt.Y2("z0"),
    fill=alt.Fill("vf:N", scale=None), stroke=alt.Stroke("vs:N", scale=None))

price = alt.layer(
    GRAD(H_PRC, [(0, "#f1e6c0"), (0.35, "#f6efcd"), (0.72, "#f0e4bb"), (1, "#e2c99b")]),
    *VGRID(H_PRC, XAX),
    HLINES(price_ticks, ysc_p, None),
    vol_chart,
    price_main,
    *FRAME(H_PRC),
    GUARD(536),
).resolve_scale(y="independent").properties(width=W, height=H_PRC)

# ================= MACD panel
hdf = pd.DataFrame({"i": list(range(len(hist_vals))), "h": hist_vals, "z": 0.0})
macd = alt.layer(
    GRAD(H_MACD, [(0, "#dfc393"), (1, "#cda574")]),
    *VGRID(H_MACD, XAX),
    HLINES([-0.15, -0.10, -0.05, 0.0, 0.05, 0.10, 0.15, 0.20, 0.25, 0.30], ysc_d, MAX),
    alt.Chart(hdf).mark_bar(size=4.6, fill="#4f9bc6", stroke="#1f5f8f", strokeWidth=0.8).encode(
        x=XP(axis=XAX), y=alt.Y("h:Q", scale=ysc_d, axis=MAX), y2=alt.Y2("z")),
    alt.Chart(pts_df(macd_pts, "v")).mark_line(color="#000000", strokeWidth=1.8).encode(
        x=XP(axis=XAX), y=alt.Y("v:Q", scale=ysc_d, axis=MAX)),
    alt.Chart(pts_df(signal_pts, "v")).mark_line(color="#ee1111", strokeWidth=1.1).encode(
        x=XP(axis=XAX), y=alt.Y("v:Q", scale=ysc_d, axis=MAX)),
    *FRAME(H_MACD),
    GUARD(5),
    alt.Chart(pd.DataFrame({"v": annot_level})).mark_rule(color="#0000ee", strokeWidth=2.5).encode(
        y=alt.Y("v:Q", scale=ysc_d, axis=MAX), x=alt.value(-38.5), x2=alt.value(1207)),
    BOX(2, 232, 1.5, 14, "#dfc393"),
    R(4, 12, 7.5, 7.5, "#000000", width=2),
    T("MACD(12,26,9) 0.117", 16, 7.5, size=10.7, color="#111111"),
    T(", 0.043", 137.7, 7.5, size=10.7, color="#ee1111"),
    T(", 0.074", 176, 7.5, size=10.7, color="#3399cc"),
).properties(width=W, height=H_MACD)

chart = alt.vconcat(header, mfi, sto, price, macd, spacing=0).properties(
    padding={"left": 0, "top": 0, "right": 2, "bottom": 0}, background="#ffffff"
).configure_view(strokeWidth=0)

chart.save("out.html", embed_options={"renderer": "svg", "actions": False})
